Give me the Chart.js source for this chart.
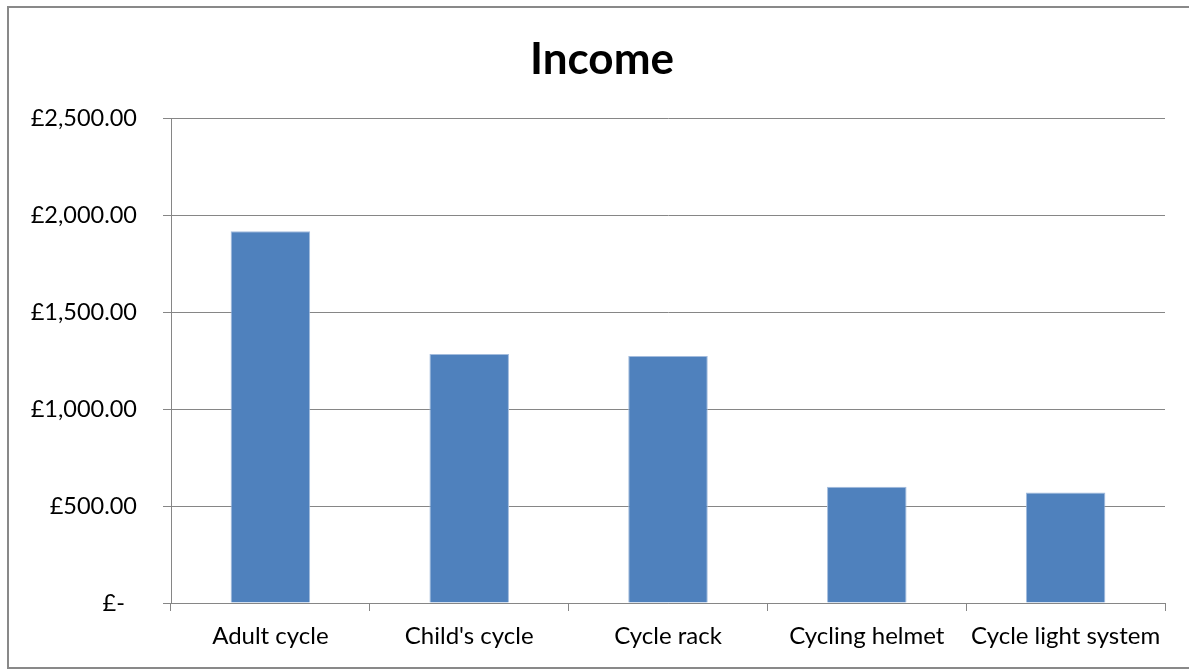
<!DOCTYPE html>
<html>
<head>
<meta charset="utf-8">
<script src="https://cdn.jsdelivr.net/npm/chart.js@4"></script>
<style>
  html, body { margin: 0; padding: 0; background: #fff; overflow: hidden; }
  #frame { position: absolute; left: 7px; top: 6px; width: 1190px; height: 663px;
           border: 2px solid #898989; box-sizing: border-box; background: #fff; }
  #c { display: block; }
</style>
</head>
<body>
<div id="frame"><canvas id="c" width="1186" height="659"></canvas></div>
<script>
const categories = ["Adult cycle", "Child's cycle", "Cycle rack", "Cycling helmet", "Cycle light system"];
const income = [1920, 1285, 1275, 600, 570];
const yTicks = [0, 500, 1000, 1500, 2000, 2500];
const chartTitle = "Income";

const FONT = "Lato, 'Noto Sans', sans-serif";
const GRID = "#868686";

function fmt(v) {
  if (v === 0) return "£-  ";
  return "£" + v.toLocaleString("en-GB", { minimumFractionDigits: 2, maximumFractionDigits: 2 });
}

new Chart(document.getElementById("c"), {
  type: "bar",
  data: {
    labels: categories,
    datasets: [{
      label: chartTitle,
      data: income,
      backgroundColor: "#4F81BD",
      borderColor: "#A3BCDD",
      borderWidth: { top: 1, left: 1, right: 1, bottom: 0 },
      barPercentage: 0.4,
      categoryPercentage: 1.0
    }]
  },
  options: {
    responsive: false,
    animation: false,
    layout: { padding: 0 },
    plugins: {
      legend: { display: false },
      tooltip: { enabled: false },
      title: {
        display: true,
        text: chartTitle,
        color: "#000",
        font: { family: FONT, size: 44, weight: "bold", lineHeight: 1.2 },
        padding: { top: 25, bottom: 33 }
      }
    },
    scales: {
      x: {
        offset: true,
        grid: { display: true, offset: true, drawOnChartArea: false, color: GRID, tickLength: 8, lineWidth: 1 },
        border: { display: true, color: GRID, width: 1 },
        ticks: { color: "#000", font: { family: FONT, size: 24 }, padding: 11, maxRotation: 0, autoSkip: false },
        afterFit: s => { s.height = 64; }
      },
      y: {
        min: 0,
        max: 2500,
        afterBuildTicks: s => { s.ticks = yTicks.map(v => ({ value: v })); },
        grid: { color: GRID, tickLength: 8, lineWidth: 1 },
        border: { display: true, color: GRID, width: 1 },
        ticks: { color: "#000", font: { family: FONT, size: 23.5 }, padding: 26, callback: v => fmt(v) },
        afterFit: s => { s.width = 162; }
      },
      yRight: {
        position: "right",
        min: 0,
        max: 2500,
        grid: { display: false, drawOnChartArea: false },
        border: { display: false },
        ticks: { display: false },
        afterFit: s => { s.width = 30; }
      }
    }
  }
});
</script>
</body>
</html>
